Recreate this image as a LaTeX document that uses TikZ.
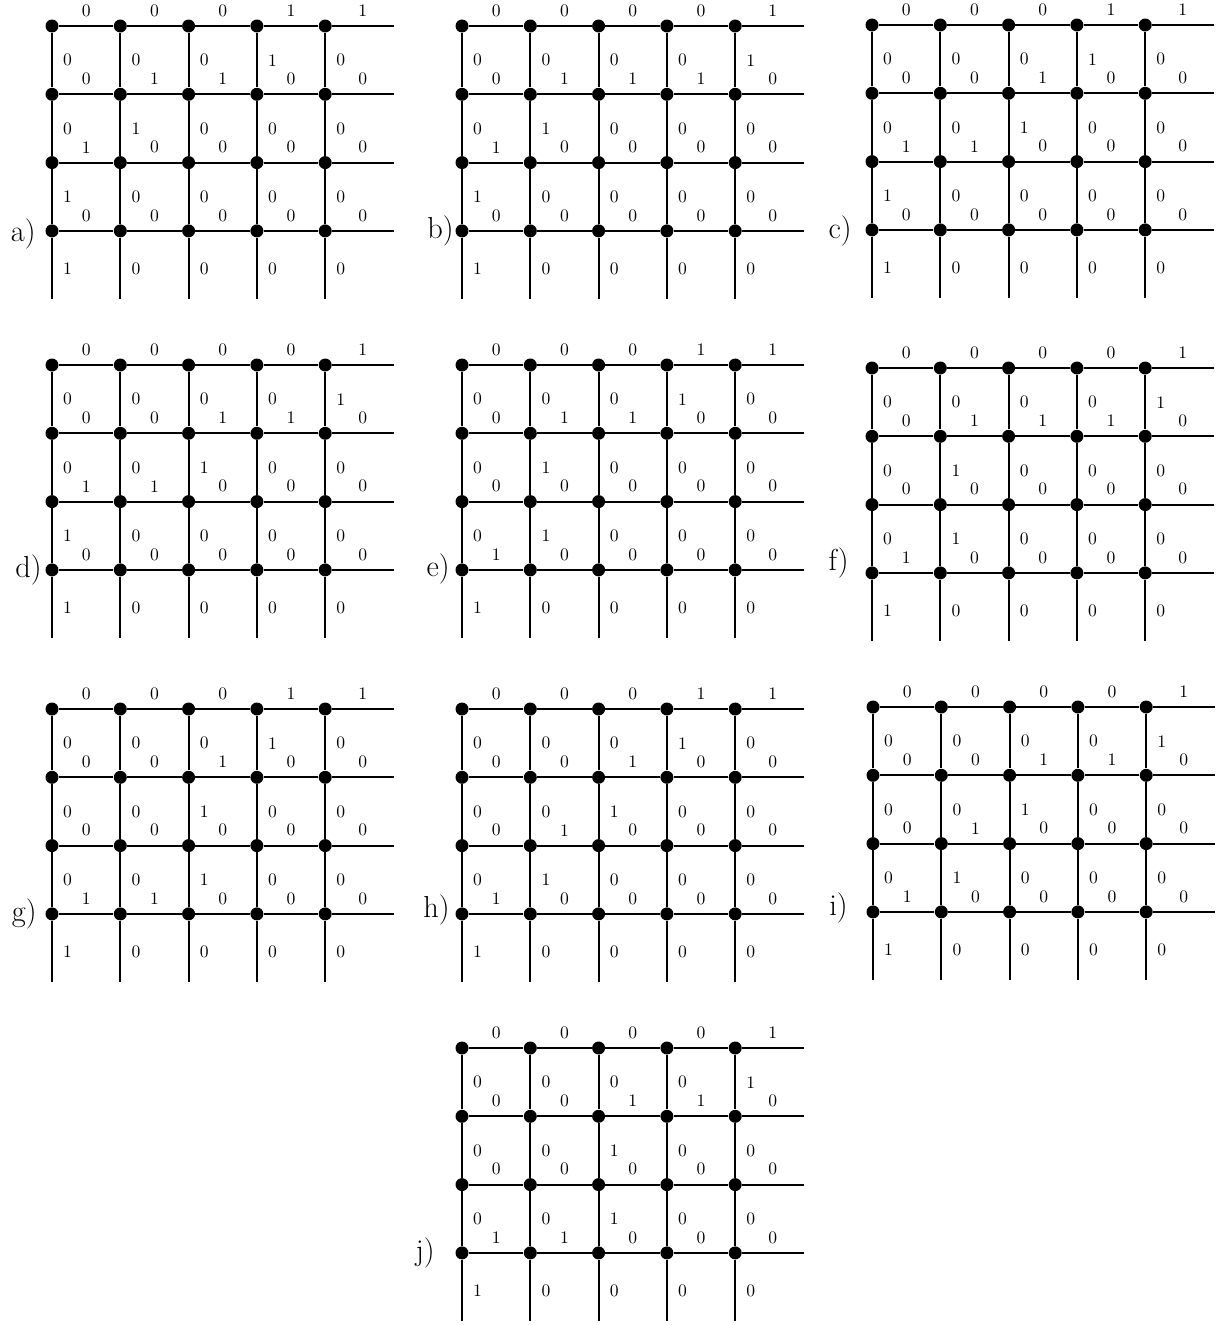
\documentclass[tikz,border=0pt]{standalone}
\usepackage{tikz}
\usetikzlibrary{positioning}

\begin{document}
\begin{tikzpicture}[x=0.02cm, y=-0.02cm,
    dot/.style={circle, fill=black, inner sep=0pt, minimum size=0.26cm},
    wire/.style={line width=1.1pt},
    hlab/.style={midway, above=1.5pt},
    vlab/.style={midway, right=2.5pt},
    panel/.style={font=\LARGE, inner sep=0pt, anchor=base east}]
  \useasboundingbox (0,0) rectangle (1224,1325);
  % One lattice per panel: name/x/y/label gap/label drop/edge labels
  \foreach \p/\px/\py/\gap/\dy/\hl/\vl in {
    a/52/26/16/11/{0,0,0,1,1,0,1,1,0,0,1,0,0,0,0,0,0,0,0,0}/{0,0,0,1,0,0,1,0,0,0,1,0,0,0,0,1,0,0,0,0},
    b/462/26/8/8/{0,0,0,0,1,0,1,1,1,0,1,0,0,0,0,0,0,0,0,0}/{0,0,0,0,1,0,1,0,0,0,1,0,0,0,0,1,0,0,0,0},
    c/872/25/20/9/{0,0,0,1,1,0,0,1,0,0,1,1,0,0,0,0,0,0,0,0}/{0,0,0,1,0,0,0,1,0,0,1,0,0,0,0,1,0,0,0,0},
    d/52/365/10/8/{0,0,0,0,1,0,0,1,1,0,1,1,0,0,0,0,0,0,0,0}/{0,0,0,0,1,0,0,1,0,0,1,0,0,0,0,1,0,0,0,0},
    e/462/365/12/7/{0,0,0,1,1,0,1,1,0,0,0,0,0,0,0,1,0,0,0,0}/{0,0,0,1,0,0,1,0,0,0,0,1,0,0,0,1,0,0,0,0},
    f/872/368/23/-2/{0,0,0,0,1,0,1,1,1,0,0,0,0,0,0,1,0,0,0,0}/{0,0,0,0,1,0,1,0,0,0,0,1,0,0,0,1,0,0,0,0},
    g/52/709/15/8/{0,0,0,1,1,0,0,1,0,0,0,0,0,0,0,1,1,0,0,0}/{0,0,0,1,0,0,0,1,0,0,0,0,1,0,0,1,0,0,0,0},
    h/462/709/12/4/{0,0,0,1,1,0,0,1,0,0,0,1,0,0,0,1,0,0,0,0}/{0,0,0,1,0,0,0,1,0,0,0,1,0,0,0,1,0,0,0,0},
    i/873/707/25/4/{0,0,0,0,1,0,0,1,1,0,0,1,0,0,0,1,0,0,0,0}/{0,0,0,0,1,0,0,1,0,0,0,1,0,0,0,1,0,0,0,0},
    j/462/1048/27/8/{0,0,0,0,1,0,0,1,1,0,0,0,0,0,0,1,1,0,0,0}/{0,0,0,0,1,0,0,1,0,0,0,0,1,0,0,1,0,0,0,0}} {
    % Lattice points
    \foreach \r in {0,...,3}
      \foreach \c in {0,...,4}
        \node[dot] (\p-\r-\c) at ({\px+68.3*\c}, {\py+68.3*\r}) {};
    % Loose ends of the lines
    \foreach \r in {0,...,3}
      \coordinate (\p-\r-5) at ({\px+68.3*5}, {\py+68.3*\r});
    \foreach \c in {0,...,4}
      \coordinate (\p-4-\c) at ({\px+68.3*\c}, {\py+68.3*4});
    % Horizontal edges
    \foreach \t [count=\k from 0] in \hl {
      \pgfmathtruncatemacro{\r}{floor(\k/5)}
      \pgfmathtruncatemacro{\c}{mod(\k,5)}
      \pgfmathtruncatemacro{\n}{\c+1}
      \draw[wire] (\p-\r-\c) -- (\p-\r-\n) node[hlab] {\t};
    }
    % Vertical edges
    \foreach \t [count=\k from 0] in \vl {
      \pgfmathtruncatemacro{\r}{floor(\k/5)}
      \pgfmathtruncatemacro{\c}{mod(\k,5)}
      \pgfmathtruncatemacro{\n}{\r+1}
      \draw[wire] (\p-\r-\c) -- (\p-\n-\c) node[vlab] {\t};
    }
    % Panel letter
    \node[panel] (\p-name) at ({\px-\gap}, {\py+3*68.3+\dy}) {\p)};
  }
\end{tikzpicture}
\end{document}
